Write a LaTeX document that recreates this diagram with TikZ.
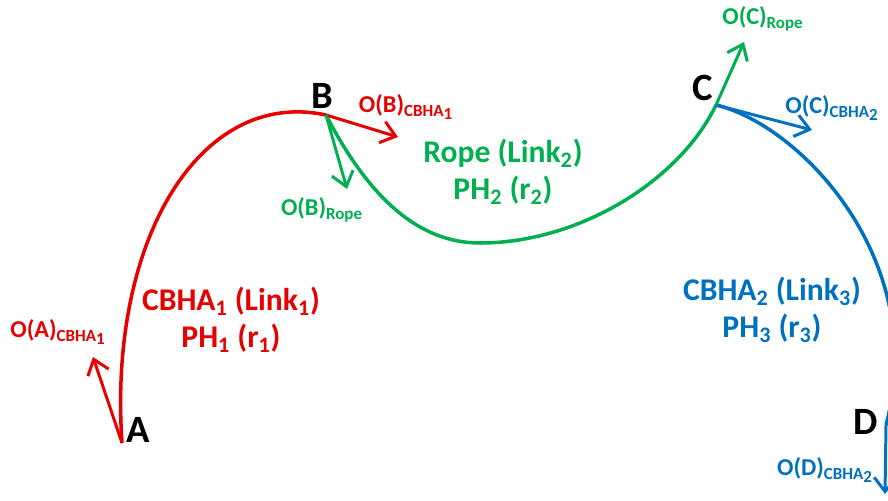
\documentclass[tikz,border=0pt]{standalone}
\usepackage{fontspec}
\setmainfont{Carlito}
\usetikzlibrary{arrows.meta}
\definecolor{linkred}{RGB}{230,0,0}
\definecolor{linkgreen}{RGB}{0,176,80}
\definecolor{linkblue}{RGB}{0,112,192}
\newcommand{\lowone}[1]{\raisebox{-.35ex}{#1}}
\begin{document}
\begin{tikzpicture}[x=0.02cm,y=-0.02cm,
    every node/.style={font=\bfseries,align=center},
    pointlbl/.style={font=\fontsize{22}{24}\selectfont\bfseries},
    framelbl/.style={font=\fontsize{13.8}{15}\selectfont\bfseries},
    linklbl/.style={font=\fontsize{18}{21}\selectfont\bfseries},
    curve/.style={line width=2pt},
    axis/.style={line width=1.7pt,-{Straight Barb[length=8pt,width=12.5pt]}}]
    \useasboundingbox (0,0) rectangle (888,500);
    % joints
    \coordinate (A) at (122,443);
    \coordinate (B) at (326,115);
    \coordinate (C) at (716,105);
    \coordinate (D) at (886,425);
    % arrow tips
    \coordinate (tA) at (93,357);
    \coordinate (tB1) at (398,137);
    \coordinate (tB2) at (347,189);
    \coordinate (tC1) at (744,42);
    \coordinate (tC2) at (812,130);
    \coordinate (tD) at (885,494);
    % links
    \draw[linkred,curve] (A) .. controls (108,240) and (200,88) .. (B);
    \draw[linkgreen,curve] (B) .. controls (370,200) and (420,243) .. (480,243)
        .. controls (580,243) and (680,180) .. (C);
    \draw[linkblue,curve] (C) .. controls (800,125) and (930,260) .. (D);
    % frame axes
    \draw[linkred,axis] (A) -- (tA);
    \draw[linkred,axis] (B) -- (tB1);
    \draw[linkgreen,axis] (B) -- (tB2);
    \draw[linkgreen,axis] (C) -- (tC1);
    \draw[linkblue,axis] (C) -- (tC2);
    \draw[linkblue,axis] (D) -- (tD);
    % labels
    \node[pointlbl] (lA) at (138,430) {A};
    \node[pointlbl] (lB) at (322,96) {B};
    \node[pointlbl] (lC) at (703,88) {C};
    \node[pointlbl] (lD) at (866,422) {D};
    \node[framelbl,linkred] (oA) at (58,332) {O(A)\textsubscript{CBHA\lowone{1}}};
    \node[framelbl,linkred] (oB1) at (406,107) {O(B)\textsubscript{CBHA\lowone{1}}};
    \node[framelbl,linkgreen] (oB2) at (322,210) {O(B)\textsubscript{Rope}};
    \node[framelbl,linkgreen] (oC1) at (763,19) {O(C)\textsubscript{Rope}};
    \node[framelbl,linkblue] (oC2) at (832,108) {O(C)\textsubscript{CBHA\lowone{2}}};
    \node[framelbl,linkblue] (oD) at (825,470) {O(D)\textsubscript{CBHA\lowone{2}}};
    \node[linklbl,linkred] (link1) at (231,320) {CBHA\textsubscript{1} (Link\textsubscript{1})\\PH\textsubscript{1} (r\textsubscript{1})};
    \node[linklbl,linkgreen] (link2) at (503,172) {Rope (Link\textsubscript{2})\\PH\textsubscript{2} (r\textsubscript{2})};
    \node[linklbl,linkblue] (link3) at (772,310) {CBHA\textsubscript{2} (Link\textsubscript{3})\\PH\textsubscript{3} (r\textsubscript{3})};
\end{tikzpicture}
\end{document}
